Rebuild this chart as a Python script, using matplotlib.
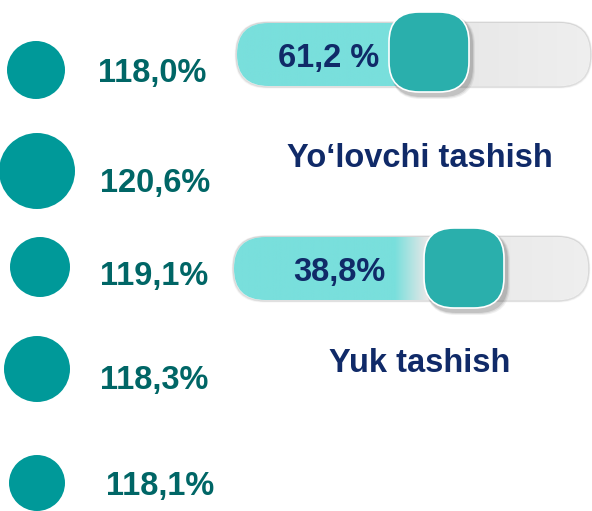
import numpy as np
import matplotlib.pyplot as plt
from matplotlib.patches import Circle, FancyBboxPatch
from matplotlib.colors import to_rgb

plt.rcParams['font.family'] = ['Liberation Sans', 'DejaVu Sans']

# growth indicators (left column)
growth = [118.0, 120.6, 119.1, 118.3, 118.1]
# share of transport types (sliders)
share_names = ['Yo\u2018lovchi tashish', 'Yuk tashish']
share_vals = [61.2, 38.8]
share_fmt = ['{} %', '{}%']

# layout (pixels)
circ_x = [36, 37, 40, 37, 37]
circ_y = [70, 171, 267, 369, 483]
circ_r = [29, 38, 30, 33, 28]
lab_x = [98, 100, 100, 100, 106]
lab_y = [70, 180, 273, 377, 483]

trk_x = [237, 234]
trk_y = [23, 237]
trk_w = [353, 354]
trk_h = 63
knob_x = [389, 424]
knob_y = [12, 228]
knob_s = 80
fade = [(405, 440), (395, 427)]
txt_x = [278, 293]
title_y = [155, 360]

FS = 23.5
half_cap = 12.3

teal = '#009999'
teal_dark = '#006666'
navy = '#102a68'
cyan = '#79dfdc'
grey = '#e7e7e7'
knob_col = '#2aafac'

fig = plt.figure(figsize=(5.92, 5.11), dpi=100)
ax = fig.add_axes([0, 0, 1, 1])
ax.set_xlim(0, 592)
ax.set_ylim(511, 0)
ax.axis('off')

for i, v in enumerate(growth):
    ax.add_patch(Circle((circ_x[i], circ_y[i]), circ_r[i], color=teal, lw=0))
    ax.text(lab_x[i], lab_y[i] + half_cap, f'{v:.1f}%'.replace('.', ','), color=teal_dark,
            fontsize=FS, fontweight='bold', ha='left', va='baseline')

for i, v in enumerate(share_vals):
    x0, y0, w = trk_x[i], trk_y[i], trk_w[i]
    # soft outline of track
    for k, a in zip([3, 2, 1], [0.03, 0.05, 0.09]):
        ax.add_patch(FancyBboxPatch((x0 - k * 0.5, y0 - k * 0.3), w + k, trk_h + k * 0.9,
                                    boxstyle=f'round,pad=0,rounding_size={trk_h / 2}',
                                    fc='none', ec=(0, 0, 0, a), lw=1.2))
    track = FancyBboxPatch((x0, y0), w, trk_h,
                           boxstyle=f'round,pad=0,rounding_size={trk_h / 2}',
                           fc='none', ec='none')
    ax.add_patch(track)
    xs = np.linspace(x0, x0 + w, 400)
    t = np.clip((xs - fade[i][0]) / (fade[i][1] - fade[i][0]), 0, 1)
    c1, c2 = np.array(to_rgb(cyan)), np.array(to_rgb(grey))
    row = c1[None, :] * (1 - t[:, None]) + c2[None, :] * t[:, None]
    # slight lightening towards right end
    row = row + (np.clip((xs - fade[i][1]) / (x0 + w - fade[i][1]), 0, 1) * 0.03)[:, None]
    img = np.clip(np.repeat(row[None, :, :], 2, axis=0), 0, 1)
    im = ax.imshow(img, extent=(x0, x0 + w, y0 + trk_h, y0), aspect='auto', zorder=1)
    im.set_clip_path(track)

    # knob shadow
    kx, ky = knob_x[i], knob_y[i]
    for k, a in zip([8, 6, 4], [0.07, 0.1, 0.15]):
        ax.add_patch(FancyBboxPatch((kx + 2, ky + 3), knob_s + k * 0.5, knob_s + k * 0.5,
                                    boxstyle='round,pad=0,rounding_size=30',
                                    fc=(0.2, 0.2, 0.2, a), ec='none', zorder=2))
    ax.add_patch(FancyBboxPatch((kx, ky), knob_s, knob_s,
                                boxstyle='round,pad=0,rounding_size=30',
                                fc=knob_col, ec='white', lw=1.2, zorder=3))
    ax.text(txt_x[i], y0 + trk_h / 2 + half_cap, share_fmt[i].format(str(v).replace('.', ',')),
            color=navy, fontsize=FS, fontweight='bold', ha='left', va='baseline', zorder=4)
    ax.text(420, title_y[i] + half_cap, share_names[i], color=navy, fontsize=FS,
            fontweight='bold', ha='center', va='baseline')

fig.savefig('out.png', dpi=100)
